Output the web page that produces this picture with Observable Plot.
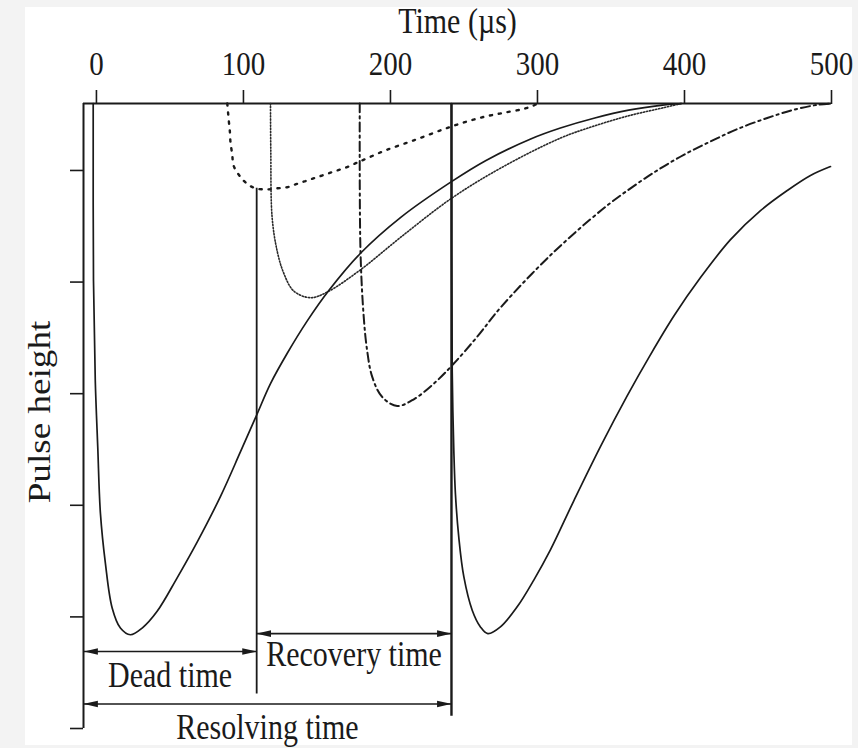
<!DOCTYPE html>
<html><head><meta charset="utf-8">
<script src="https://cdn.jsdelivr.net/npm/d3@7"></script>
<script src="https://cdn.jsdelivr.net/npm/@observablehq/plot@0.6"></script>
<style>
html,body{margin:0;padding:0;background:#f3f3f3;}
#chart{position:absolute;left:25px;top:7px;width:827px;height:738px;background:#fff;}
#chart svg{display:block;background:#fff;overflow:visible;}
</style></head><body><div id="chart"></div>
<script>
// Axis ticks
const xTicks = [0, 100, 200, 300, 400, 500];
const yTicks = [-0.6, -1.6, -2.6, -3.6, -4.6, -5.6];
const timeStart = -8.8, timeEnd = 500;

// Main pulse (t = 0)
const mainT = [-2.2, -2.0, -0.8, 0.9, 2.7, 6.1, 10.7, 16.3, 23.1, 31.1, 41.3, 54.9, 68.5, 84.4, 98, 108.7, 118.4, 129.7, 143.3, 157.8, 179.6, 207, 241.5, 265, 295, 315.6, 339, 362, 385, 398];
const mainH = [0, -1.59, -2.48, -3.08, -3.67, -4.12, -4.52, -4.70, -4.76, -4.70, -4.55, -4.25, -3.93, -3.52, -3.12, -2.80, -2.51, -2.24, -1.95, -1.68, -1.342, -1.02, -0.70, -0.51, -0.32, -0.22, -0.13, -0.06, -0.015, 0];

// Pulse arriving at ~90 µs (coarse dots)
const p90T = [89, 90, 90.7, 91.2, 92.3, 93.4, 97.5, 102.5, 108.2, 116.1, 122.9, 129.7, 136.5, 143.3, 150.1, 156.9, 163.7, 170.5, 177.3, 184.2, 196.6, 215.9, 236.3, 249.9, 263.5, 277.1, 290.7, 297.5, 300];
const p90H = [0, -0.15, -0.24, -0.35, -0.45, -0.56, -0.65, -0.72, -0.76, -0.77, -0.76, -0.75, -0.72, -0.69, -0.66, -0.63, -0.60, -0.57, -0.53, -0.49, -0.42, -0.33, -0.23, -0.17, -0.12, -0.083, -0.048, -0.018, 0];

// Pulse arriving at ~120 µs (fine dots)
const p120T = [118.4, 118.6, 119.5, 122.9, 127.4, 134.2, 145.6, 156.9, 179.6, 206.8, 241.5, 274.8, 315.6, 339, 362, 385, 398];
const p120H = [0, -0.42, -1.02, -1.32, -1.52, -1.68, -1.74, -1.69, -1.49, -1.20, -0.85, -0.58, -0.31, -0.20, -0.11, -0.04, 0];

// Pulse arriving at ~180 µs (dash-dot)
const p180T = [179.1, 179.6, 181.8, 184.1, 187.6, 194.4, 204.6, 215.9, 229.5, 243.1, 259, 274.8, 308.8, 344, 363.3, 381.4, 399.5, 417.7, 435.8, 456.3, 474.4, 490.3, 500];
const p180H = [0, -1.32, -1.91, -2.21, -2.45, -2.63, -2.71, -2.65, -2.51, -2.33, -2.09, -1.83, -1.36, -0.95, -0.76, -0.60, -0.46, -0.34, -0.23, -0.13, -0.056, -0.012, 0];

// Full pulse after resolving time (~242 µs)
const p242T = [241.5, 242, 243.1, 244.2, 246.5, 249.9, 255.6, 261.2, 266.2, 274.8, 286.2, 297.5, 308.8, 324.7, 343, 361, 376.9, 393, 410.9, 431.3, 451.7, 469.9, 485.7, 499.3];
const p242H = [0, -2.4, -3.11, -3.50, -3.89, -4.24, -4.54, -4.69, -4.75, -4.69, -4.51, -4.27, -4.00, -3.56, -3.07, -2.62, -2.25, -1.90, -1.56, -1.22, -0.96, -0.78, -0.645, -0.565];

// Time spans
const spanLabels = ["Dead time", "Recovery time", "Resolving time"];
const spanStart = [-8.8, 109, -8.8];
const spanEnd = [109, 241.5, 241.5];
const arrowLevel = [-4.91, -4.75, -5.38];
const labelBaseline = [-5.224, -5.036, -5.69];

// Marker lines
const deadLineT = 109, deadLineTop = -0.76, deadLineBottom = -5.29;
const resolveLineT = 241.5, resolveLineTop = 0, resolveLineBottom = -5.49;

const rows = (ts, hs) => ts.map((t, i) => ({t, h: hs[i]}));
const spans = spanLabels.map((label, i) => ({
  label, x1: spanStart[i], x2: spanEnd[i], y: arrowLevel[i],
  mid: (spanStart[i] + spanEnd[i]) / 2, base: labelBaseline[i]
}));

const ink = "#1a1a1a";
const chart = Plot.plot({
  width: 827, height: 738,
  marginLeft: 58, marginRight: 21, marginTop: 96, marginBottom: 17,
  style: {fontFamily: "'Liberation Serif', 'Times New Roman', serif", fontSize: "29px", color: ink, background: "#fff", overflow: "visible"},
  x: {domain: [timeStart, timeEnd], label: null},
  y: {domain: [-5.6, 0], label: null},
  marks: [
    Plot.axisX({anchor: "top", ticks: xTicks, tickSize: 14, tickPadding: 15, label: null, strokeWidth: 1.6}),
    Plot.axisY({anchor: "left", ticks: yTicks, tickSize: 13, tickFormat: () => "", label: null, strokeWidth: 1.6}),
    Plot.ruleY([0], {x1: timeStart, x2: timeEnd, stroke: ink, strokeWidth: 2.2}),
    Plot.ruleX([timeStart], {y1: -5.6, y2: 0, stroke: ink, strokeWidth: 2}),
    Plot.ruleX([deadLineT], {y1: deadLineTop, y2: deadLineBottom, stroke: ink, strokeWidth: 1.8}),
    Plot.ruleX([resolveLineT], {y1: resolveLineTop, y2: resolveLineBottom, stroke: ink, strokeWidth: 2.4}),
    Plot.line(rows(p90T, p90H), {x: "t", y: "h", curve: "catmull-rom", stroke: ink, strokeWidth: 2.4, strokeDasharray: "2.2,6.8"}),
    Plot.line(rows(p120T, p120H), {x: "t", y: "h", curve: "catmull-rom", stroke: "#2a2a2a", strokeWidth: 1.6, strokeDasharray: "1.3,1.8"}),
    Plot.line(rows(p180T, p180H), {x: "t", y: "h", curve: "catmull-rom", stroke: ink, strokeWidth: 2, strokeDasharray: "9,4,2.2,4"}),
    Plot.line(rows(mainT, mainH), {x: "t", y: "h", curve: "catmull-rom", stroke: ink, strokeWidth: 1.7}),
    Plot.line(rows(p242T, p242H), {x: "t", y: "h", curve: "catmull-rom", stroke: ink, strokeWidth: 1.7}),
    Plot.link(spans, {x1: "x1", x2: "x2", y1: "y", y2: "y", stroke: ink, strokeWidth: 1.6, markerStart: "arrow", markerEnd: "arrow"}),
    Plot.text(spans, {x: "mid", y: "base", text: "label", lineAnchor: "bottom", fontSize: 30, fill: ink}),
    Plot.text(["Time (µs)"], {frameAnchor: "top", textAnchor: "middle", dy: -71, lineAnchor: "bottom", fontSize: 30, fill: ink}),
    Plot.text(["Pulse height"], {frameAnchor: "left", textAnchor: "middle", rotate: -90, dx: -34, dy: -4, lineAnchor: "bottom", fontSize: 31.5, fill: ink})
  ]
});
document.getElementById("chart").appendChild(chart);

// Typeset: the source lettering is taller than it is wide
chart.querySelectorAll("text").forEach(el => {
  const tr = el.getAttribute("transform") || "";
  el.setAttribute("transform", tr + (/rotate/.test(tr) ? " scale(1.18,1)" : " scale(1,1.17)"));
});
// Filled arrowheads with tip at the line end
chart.querySelectorAll("marker").forEach(m => {
  m.setAttribute("orient", "auto-start-reverse");
  m.setAttribute("refX", "5");
  m.setAttribute("markerWidth", "9");
  m.setAttribute("markerHeight", "9");
  m.setAttribute("fill", ink);
  m.setAttribute("stroke", "none");
  m.querySelectorAll("path").forEach(p => p.setAttribute("d", "M-5,-2.3L5,0L-5,2.3Z"));
});
</script>
</body></html>
